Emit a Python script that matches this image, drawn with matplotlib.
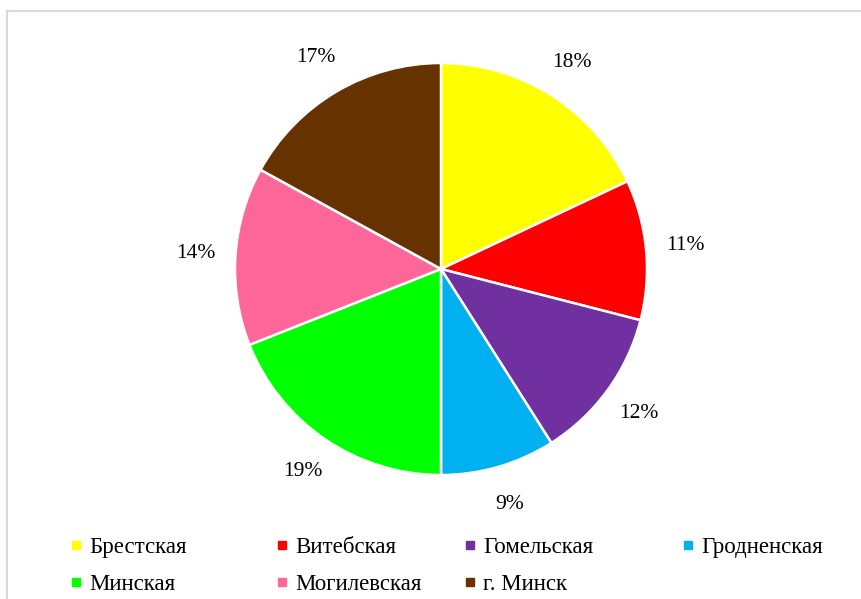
import matplotlib
matplotlib.use("Agg")
import matplotlib.pyplot as plt
from matplotlib.lines import Line2D
from matplotlib.patches import Rectangle

categories = ["Брестская", "Витебская", "Гомельская", "Гродненская",
              "Минская", "Могилевская", "г. Минск"]
values = [18, 11, 12, 9, 19, 14, 17]
colors = ["#FFFF00", "#FF0000", "#7030A0", "#00B0F0",
          "#00FF00", "#FF6699", "#663300"]

W, H = 861, 599
fig = plt.figure(figsize=(W / 100, H / 100), dpi=100)
plt.rcParams['font.family'] = ['Liberation Serif', 'DejaVu Serif']

# outer frame
fig.patches.append(Rectangle((7 / W, -0.1), 1.2, (H - 11) / H + 0.1,
                             transform=fig.transFigure, fill=False,
                             edgecolor="#d9d9d9", linewidth=1.5))

cx, cy, r = 441, H - 269, 206
half = 1.3 * r
ax = fig.add_axes([(cx - half) / W, (cy - half) / H, 2 * half / W, 2 * half / H])

wedges, texts, autotexts = ax.pie(
    values, colors=colors, startangle=90, counterclock=False,
    radius=1.0, autopct=lambda p: f"{p:.0f}%", pctdistance=1.19,
    wedgeprops=dict(edgecolor="white", linewidth=1.8),
    textprops=dict(fontsize=15.5, color="black"))
ax.set_xlim(-1.3, 1.3)
ax.set_ylim(-1.3, 1.3)
ax.axis("off")

handles = [Line2D([], [], marker="s", ls="", color=c, markersize=5.5) for c in colors]
col_x = [70, 276, 464, 682]
for c in range(4):
    idx = [i for i in (c, c + 4) if i < len(categories)]
    fig.legend([handles[i] for i in idx], [categories[i] for i in idx],
               loc="upper left", bbox_to_anchor=(col_x[c] / W, (H - 537) / H),
               frameon=False, fontsize=16.5, handlelength=0.5,
               handletextpad=0.35, labelspacing=0.68, borderpad=0,
               borderaxespad=0)

fig.savefig("out.png", dpi=100)
